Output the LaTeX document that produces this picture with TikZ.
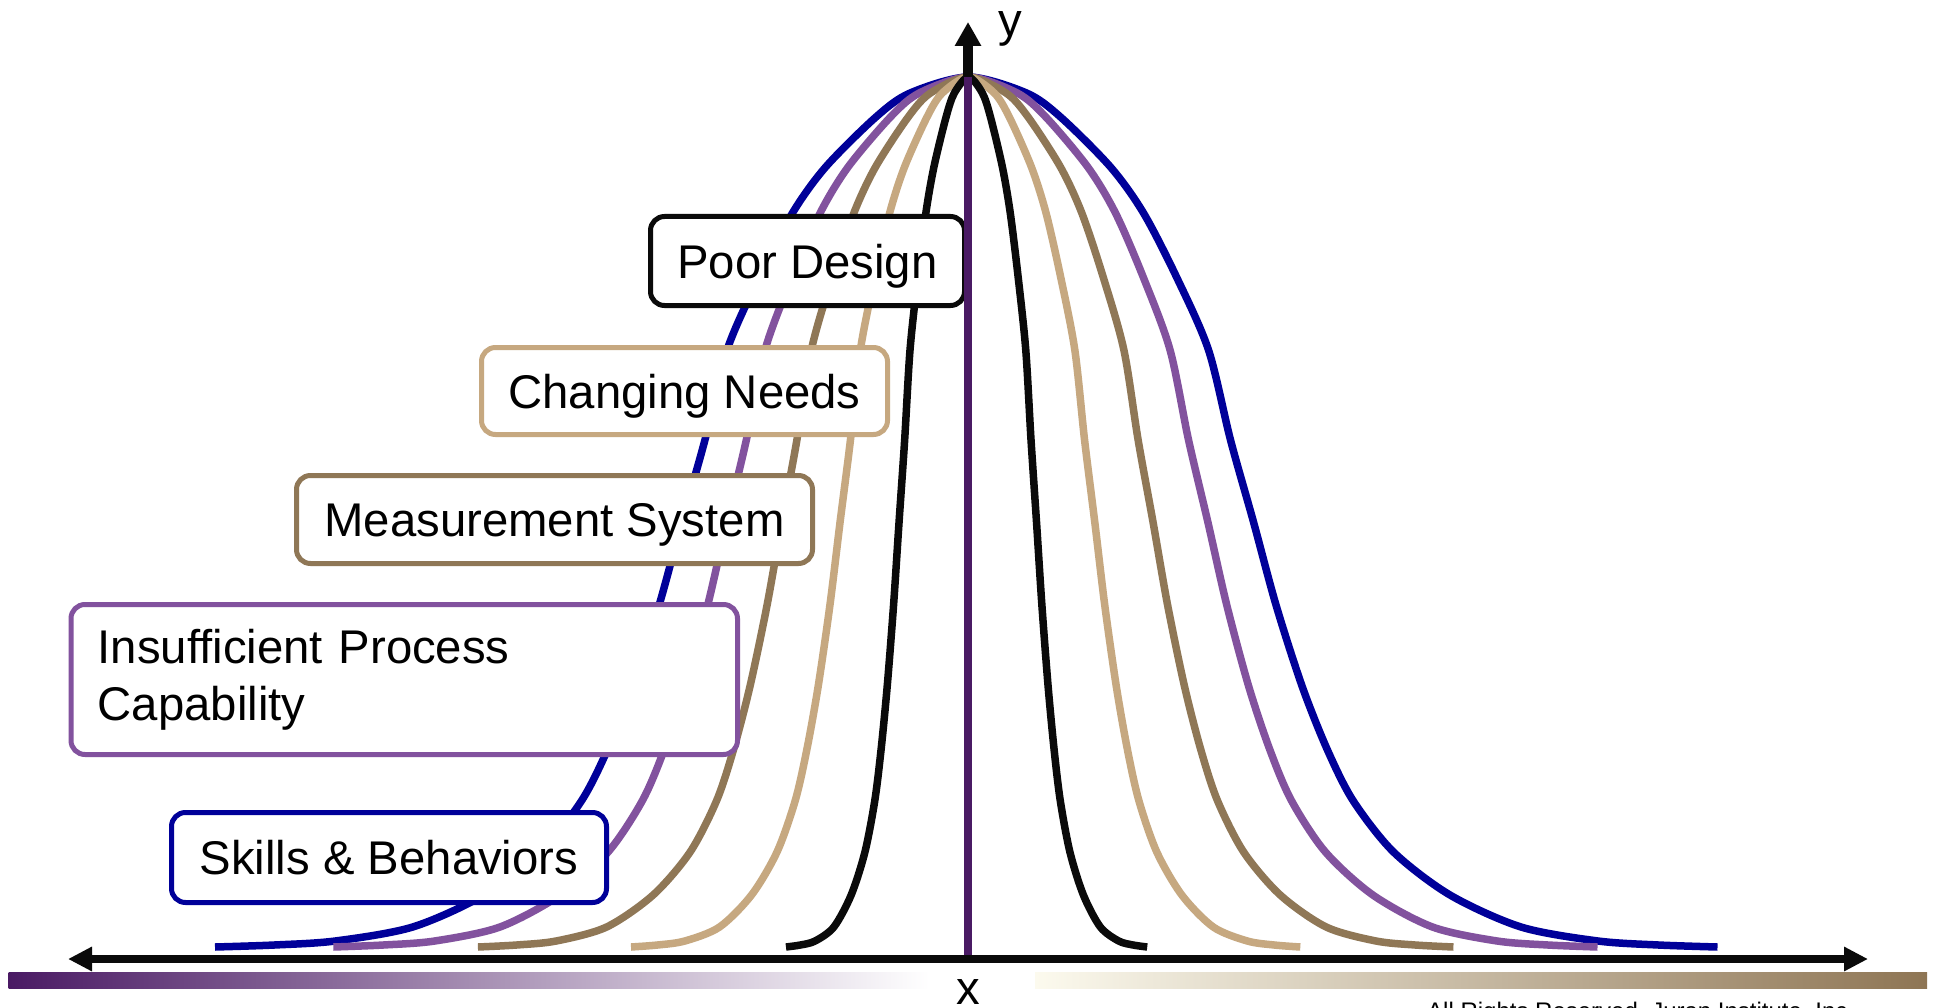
\documentclass[tikz,border=0pt]{standalone}
\usepackage{fontspec}
\setmainfont{Liberation Sans}
\usetikzlibrary{arrows.meta}

\definecolor{cvblue}{RGB}{0,0,153}
\definecolor{cvpurple}{RGB}{130,82,158}
\definecolor{cvbrown}{RGB}{143,119,86}
\definecolor{cvtan}{RGB}{198,168,128}
\definecolor{cvblack}{RGB}{10,10,10}
\definecolor{axpurple}{RGB}{74,26,100}
\definecolor{barpurple}{RGB}{74,26,100}
\definecolor{barbrown}{RGB}{142,117,84}
\definecolor{barcream}{RGB}{252,250,238}

% Bell curve through a half-profile template (peak at x=968.5, y=77),
% #1 = horizontal scale of the left half, #2 = of the right half.
\newcommand\bellpath[2]{%
  plot[smooth, tension=0.5] coordinates {
    ({968.5-#1*749},947) ({968.5-#1*690},945) ({968.5-#1*629.5},941)
    ({968.5-#1*552.5},927) ({968.5-#1*481.5},895) ({968.5-#1*425},852)
    ({968.5-#1*384.5},800.5) ({968.5-#1*358.5},749) ({968.5-#1*333.5},686)
    ({968.5-#1*307.5},605) ({968.5-#1*285},522) ({968.5-#1*262},440)
    ({968.5-#1*240},350) ({968.5-#1*208},277) ({968.5-#1*175},213)
    ({968.5-#1*142},167) ({968.5-#1*92},117) ({968.5-#1*58},93)
    (968.5,77)
    ({968.5+#2*58},93) ({968.5+#2*92},117) ({968.5+#2*142},167)
    ({968.5+#2*175},213) ({968.5+#2*208},277) ({968.5+#2*240},350)
    ({968.5+#2*262},440) ({968.5+#2*285},522) ({968.5+#2*307.5},605)
    ({968.5+#2*333.5},686) ({968.5+#2*358.5},749) ({968.5+#2*384.5},800.5)
    ({968.5+#2*425},852) ({968.5+#2*481.5},895) ({968.5+#2*552.5},927)
    ({968.5+#2*629.5},941) ({968.5+#2*690},945) ({968.5+#2*749},947)}}

\tikzset{
  bellline/.style={line width=7.5pt},
  boxbase/.style={draw, line width=5pt, rounded corners=14pt, fill=white,
    inner sep=0pt, font=\fontsize{47.3}{57}\selectfont},
  causebox/.style={boxbase, text height=34pt, text depth=0pt},
  axislabel/.style={inner sep=0pt, font=\fontsize{47.3}{57}\selectfont},
}

\begin{document}
\begin{tikzpicture}[x=1pt, y=-1pt]
  \clip (0,0) rectangle (1937,1008);
  \fill[white] (0,0) rectangle (1937,1008);

  % colour band under the x axis
  \fill[left color=barpurple, right color=white] (8.6,972) rectangle (929,988);
  \fill[left color=barcream, right color=barbrown] (1035,972) rectangle (1927,988);

  % x axis
  \coordinate (xleft) at (68,959);
  \coordinate (xright) at (1868,959);
  \draw[cvblack, line width=8pt,
        {Triangle[width=23pt,length=24pt]}-{Triangle[width=23pt,length=24pt]}]
        (xleft) -- (xright);

  % distributions, widest first
  \draw[bellline, cvblue]   \bellpath{1.006}{1.0};
  \draw[bellline, cvpurple] \bellpath{0.848}{0.8398};
  \draw[bellline, cvbrown]  \bellpath{0.655}{0.6474};
  \draw[bellline, cvtan]    \bellpath{0.4506}{0.443};
  \draw[bellline, cvblack]  \bellpath{0.2437}{0.2386};

  % causes of variation
  \node[causebox, draw=cvblack, minimum width=314pt, minimum height=89pt]
    (poor) at (807.5,261) {Poor Design};
  \node[causebox, draw=cvtan, minimum width=406pt, minimum height=87pt]
    (needs) at (684.5,391) {Changing Needs};
  \node[causebox, draw=cvbrown, minimum width=516pt, minimum height=88pt]
    (meas) at (554.5,519.5) {Measurement System};
  \node[boxbase, draw=cvpurple, minimum width=666.5pt, minimum height=150pt,
        align=left, text width=613pt, inner xsep=26.6pt]
    (capab) at (404.25,679.5) {Insufficient Process\\Capability};
  \node[causebox, draw=cvblue, minimum width=435pt, minimum height=90pt]
    (skills) at (389,857.5) {Skills \& Behaviors};

  % y axis
  \coordinate (origin) at (968,955);
  \coordinate (peak) at (968,77);
  \coordinate (ytip) at (968,22);
  \draw[axpurple, line width=8.5pt] (origin) -- (peak);
  \draw[cvblack, line width=10pt, -{Triangle[width=25pt,length=24pt]}]
    (peak) -- (ytip);

  % axis names
  \node[axislabel, anchor=base] (ylab) at (1010.5,37) {y};
  \node[axislabel, anchor=base] (xlab) at (968.5,1004) {x};

  \node[inner sep=0pt, anchor=base west, font=\fontsize{24}{28}\selectfont]
    (rights) at (1427,1019) {All Rights Reserved, Juran Institute, Inc.};
\end{tikzpicture}
\end{document}
